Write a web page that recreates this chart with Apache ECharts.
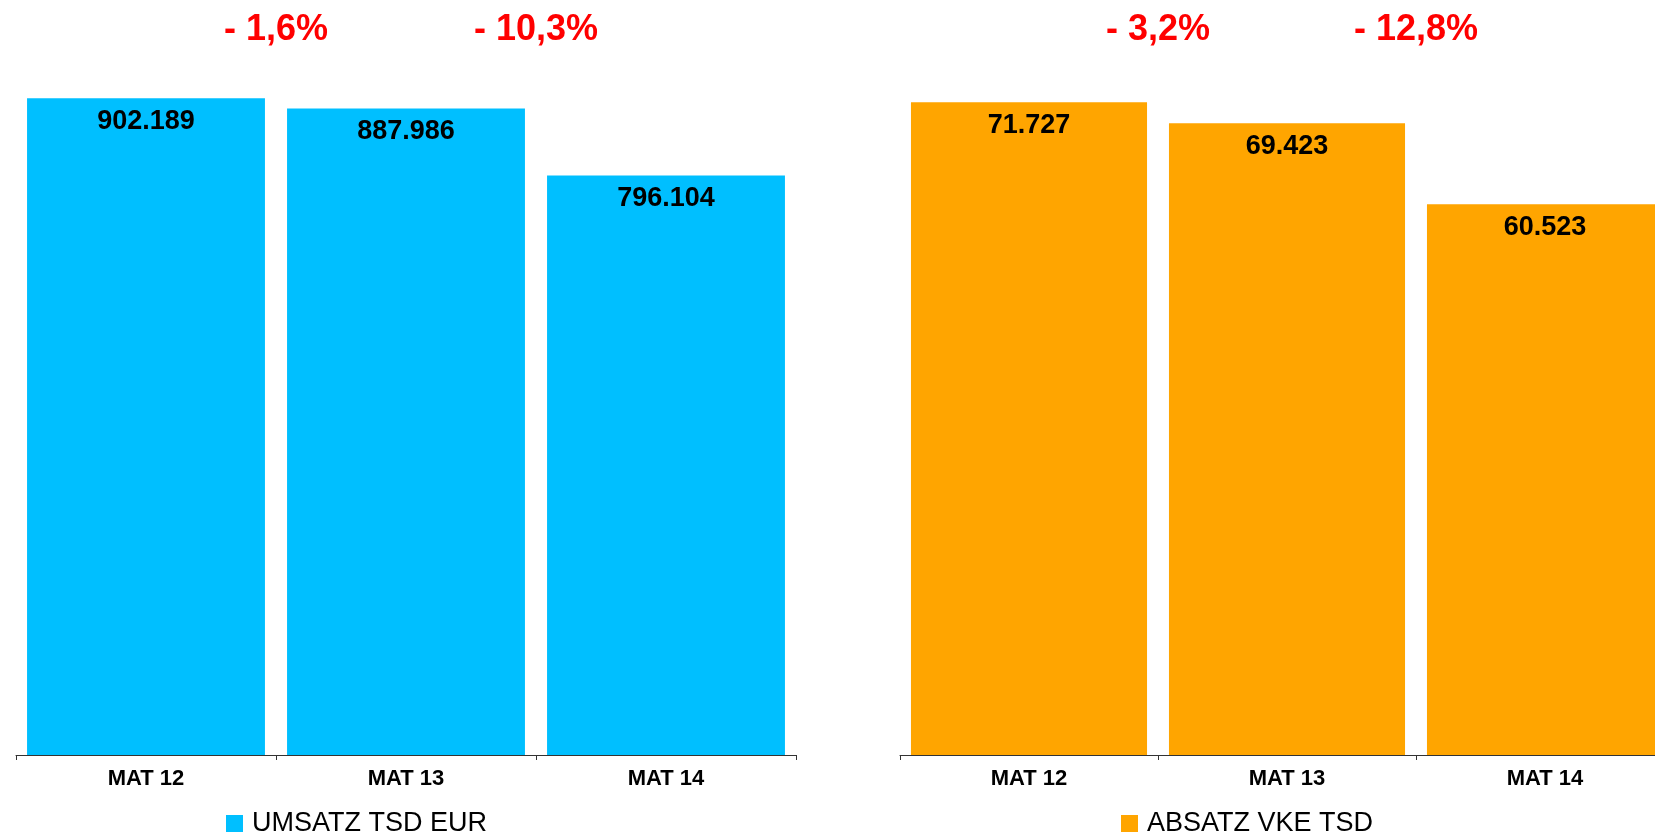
<!DOCTYPE html>
<html>
<head>
<meta charset="utf-8">
<title>Umsatz / Absatz MAT</title>
<script src="https://cdn.jsdelivr.net/npm/echarts@6/dist/echarts.min.js"></script>
<style>
  html, body { margin: 0; padding: 0; background: #fff; overflow: hidden; }
  #chart { width: 1680px; height: 838px; }
</style>
</head>
<body>
<div id="chart"></div>
<script>
// data
const categories = ['MAT 12', 'MAT 13', 'MAT 14'];
const umsatzName = 'UMSATZ TSD EUR';
const absatzName = 'ABSATZ VKE TSD';
const umsatzValues = [902189, 887986, 796104];
const absatzValues = [71727, 69423, 60523];
const umsatzChangeLabels = ['- 1,6%', '- 10,3%'];
const absatzChangeLabels = ['- 3,2%', '- 12,8%'];
const umsatzMax = 1000000;
const absatzMax = 80000;

const font = '"Liberation Sans", Arial, sans-serif';

// german thousand separator
function fmt(v) {
  return String(v).replace(/\B(?=(\d{3})+(?!\d))/g, '.');
}

// change labels sit on the category boundaries (1 and 2) at the top of the plot
function changePoints(labels, yMax) {
  return labels.map((t, i) => ({ value: [i + 1, yMax], label: { formatter: t } }));
}

const chart = echarts.init(document.getElementById('chart'), null, { renderer: 'canvas' });

const categoryAxis = (gridIndex) => ({
  type: 'category',
  gridIndex,
  data: categories,
  axisLine: { lineStyle: { color: '#333', width: 1 } },
  axisTick: { show: true, interval: 0, length: 5, lineStyle: { color: '#333' } },
  axisLabel: { color: '#000', fontFamily: font, fontWeight: 'bold', fontSize: 22, margin: 13 }
});

const boundaryAxis = (gridIndex) => ({
  type: 'value',
  gridIndex,
  min: 0,
  max: 3,
  show: false
});

const valueAxis = (gridIndex, max) => ({
  type: 'value',
  gridIndex,
  min: 0,
  max,
  show: false
});

const barSeries = (name, idx, data, color) => ({
  name,
  type: 'bar',
  xAxisIndex: idx,
  yAxisIndex: idx,
  data,
  barCategoryGap: '8.5%',
  itemStyle: { color },
  label: {
    show: true,
    position: 'insideTop',
    distance: 10,
    color: '#000',
    fontFamily: font,
    fontWeight: 'bold',
    fontSize: 27,
    formatter: (p) => fmt(p.value)
  },
  z: 3
});

const changeSeries = (idx, labels, yMax) => ({
  name: 'change' + idx,
  type: 'scatter',
  xAxisIndex: idx + 2,
  yAxisIndex: idx,
  symbolSize: 1,
  itemStyle: { color: 'rgba(0,0,0,0)', opacity: 1 },
  clip: false,
  label: {
    show: true,
    position: 'inside',
    offset: [0, 3],
    color: '#ff0000',
    opacity: 1,
    fontFamily: font,
    fontWeight: 'bold',
    fontSize: 36
  },
  data: changePoints(labels, yMax)
});

const legendStyle = (name, left) => ({
  data: [name],
  left,
  top: 810,
  padding: 0,
  icon: 'rect',
  itemWidth: 17,
  itemHeight: 17,
  textStyle: { color: '#000', fontFamily: font, fontSize: 27, padding: [0, 0, 0, 4] }
});

chart.setOption({
  backgroundColor: '#fff',
  animation: false,
  grid: [
    { left: 16, top: 27, width: 780, height: 728 },
    { left: 900, top: 27, width: 774, height: 728 }
  ],
  legend: [legendStyle(umsatzName, 226), legendStyle(absatzName, 1121)],
  xAxis: [categoryAxis(0), categoryAxis(1), boundaryAxis(0), boundaryAxis(1)],
  yAxis: [valueAxis(0, umsatzMax), valueAxis(1, absatzMax)],
  series: [
    barSeries(umsatzName, 0, umsatzValues, '#00bfff'),
    barSeries(absatzName, 1, absatzValues, '#ffa500'),
    changeSeries(0, umsatzChangeLabels, umsatzMax),
    changeSeries(1, absatzChangeLabels, absatzMax)
  ]
});
</script>
</body>
</html>
